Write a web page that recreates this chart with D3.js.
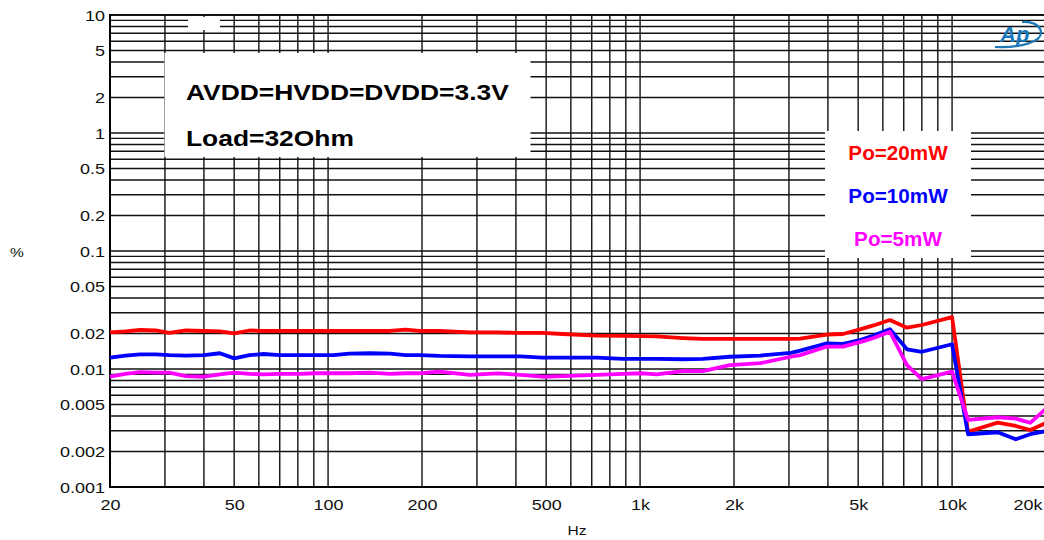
<!DOCTYPE html>
<html><head><meta charset="utf-8">
<script src="https://cdn.jsdelivr.net/npm/d3@7"></script>
<style>body{margin:0;background:#fff}svg{display:block}text{font-family:"Liberation Sans",Arial,sans-serif}</style>
</head><body><svg id="c" width="1044" height="540"></svg>
<script>
const freqs = [20,22.4,25,28,31,35,40,45,50,56,62,70,81,91,104,117,136,158,177,196,227,285,350,413,486,564,727,880,1020,1130,1370,1590,1940,2430,3040,3260,3970,4470,5100,5600,6320,7170,8000,10000,11250,14000,16000,17800,20000];
const po20 = [0.0204,0.0208,0.0214,0.0212,0.0202,0.0212,0.0210,0.0208,0.0200,0.0212,0.0210,0.0210,0.0210,0.0210,0.0210,0.0210,0.0210,0.0210,0.0216,0.0210,0.0210,0.0204,0.0204,0.0202,0.0202,0.0198,0.0192,0.0191,0.0190,0.0189,0.0183,0.0180,0.0180,0.0180,0.0180,0.0181,0.0196,0.0198,0.0218,0.0234,0.0260,0.0224,0.0236,0.0275,0.00294,0.00351,0.00329,0.00304,0.00349];
const po10 = [0.0125,0.0130,0.0133,0.0133,0.0131,0.0130,0.0131,0.0136,0.0123,0.0131,0.0134,0.0131,0.0131,0.0131,0.0131,0.0135,0.0136,0.0135,0.0131,0.0131,0.0129,0.0128,0.0128,0.0128,0.0125,0.0125,0.0125,0.0122,0.0122,0.0122,0.0121,0.0122,0.0127,0.0130,0.0137,0.0143,0.0165,0.0163,0.0177,0.0192,0.0217,0.0147,0.0140,0.0162,0.00280,0.00291,0.00254,0.00280,0.00298];
const po5 = [0.0086,0.0091,0.0094,0.0093,0.0093,0.0087,0.0086,0.0090,0.0093,0.0091,0.0090,0.0091,0.0091,0.0092,0.0092,0.0092,0.0093,0.0091,0.0092,0.0092,0.0095,0.0089,0.0092,0.0089,0.0086,0.0087,0.0089,0.0091,0.0092,0.0090,0.0096,0.0096,0.0108,0.0112,0.0127,0.0131,0.0155,0.0155,0.0170,0.0183,0.0207,0.0108,0.0082,0.0095,0.0037,0.0039,0.0038,0.0035,0.0046];
const seriesNames = ["Po=20mW","Po=10mW","Po=5mW"];
const seriesColors = ["#ff0000","#0000ff","#ff00ff"];
const xTickValues = [20,50,100,200,500,1000,2000,5000,10000,20000];
const xTickLabels = ["20","50","100","200","500","1k","2k","5k","10k","20k"];
const yTickValues = [10,5,2,1,0.5,0.2,0.1,0.05,0.02,0.01,0.005,0.002,0.001];
const yTickLabels = ["10","5","2","1","0.5","0.2","0.1","0.05","0.02","0.01","0.005","0.002","0.001"];
const infoLines = ["AVDD=HVDD=DVDD=3.3V","Load=32Ohm"];

const svg = d3.select("#c");
const x = d3.scaleLog().domain([20,20000]).range([110,1046]);
const y = d3.scaleLog().domain([0.001,10]).range([487,15]);
const SX = 1.2;

// grid
const g = svg.append("g");
g.selectAll("line.v").data(x.ticks().filter(d=>d>20 && d<=10000)).join("line")
  .attr("x1",d=>x(d)).attr("x2",d=>x(d)).attr("y1",15).attr("y2",487)
  .attr("stroke","#111").attr("stroke-width",1.4);
g.selectAll("line.h").data(y.ticks().filter(d=>d>0.001)).join("line")
  .attr("x1",110).attr("x2",1046).attr("y1",d=>y(d)).attr("y2",d=>y(d))
  .attr("stroke","#111").attr("stroke-width",1.4);
// frame
svg.append("line").attr("x1",110).attr("x2",110).attr("y1",14).attr("y2",488).attr("stroke","#000").attr("stroke-width",2);
svg.append("line").attr("x1",109).attr("x2",1046).attr("y1",487).attr("y2",487).attr("stroke","#000").attr("stroke-width",2);
svg.append("line").attr("x1",109).attr("x2",1046).attr("y1",15).attr("y2",15).attr("stroke","#000").attr("stroke-width",1.6);

// white boxes
svg.append("rect").attr("x",188).attr("y",17).attr("width",32).attr("height",13).attr("fill","#fff");
svg.append("rect").attr("x",164.5).attr("y",53).attr("width",366).attr("height",104).attr("fill","#fff");
svg.append("rect").attr("x",825).attr("y",131).attr("width",146).attr("height",127).attr("fill","#fff");

// curves
const line = d3.line().x((d,i)=>x(freqs[i])).y(d=>y(d));
[po20,po10,po5].forEach((s,k)=>{
  svg.append("path").attr("d",line(s)).attr("fill","none")
    .attr("stroke",seriesColors[k]).attr("stroke-width",3.8)
    .attr("stroke-linejoin","round");
});

// axes
const ya = d3.axisLeft(y).tickValues(yTickValues).tickFormat((d,i)=>yTickLabels[i]).tickSize(0).tickPadding(5);
const yg = svg.append("g").attr("transform","translate(110,0)").call(ya);
yg.select(".domain").remove();
yg.selectAll("text").attr("font-size",15).attr("fill","#111").attr("font-family","Liberation Sans, Arial")
  .attr("x",0).attr("dy","0.36em").attr("transform",`translate(-5,0) scale(${SX},1)`);

const xa = d3.axisBottom(x).tickValues(xTickValues).tickFormat((d,i)=>xTickLabels[i]).tickSize(0).tickPadding(12);
const xg = svg.append("g").attr("transform","translate(0,487)").call(xa);
xg.select(".domain").remove();
xg.selectAll("text").attr("font-size",15).attr("fill","#111").attr("font-family","Liberation Sans, Arial")
  .attr("transform",`scale(${SX},1)`);
xg.selectAll(".tick").filter(d=>d===20000).select("text")
  .attr("text-anchor","end").attr("transform",`translate(-4,0) scale(${SX},1)`);

// axis titles
svg.append("text").attr("transform",`translate(17,257) scale(${SX},1)`).attr("text-anchor","middle").attr("font-size",13).attr("fill","#111").text("%");
svg.append("text").attr("transform",`translate(577,535) scale(${SX},1)`).attr("text-anchor","middle").attr("font-size",13).attr("fill","#111").text("Hz");

// info text
infoLines.forEach((t,i)=>{
  svg.append("text").attr("transform",`translate(186,${100+i*46}) scale(1.2,1)`)
    .attr("font-size",22).attr("font-weight","bold").attr("fill","#000").text(t);
});
// legend
seriesNames.forEach((t,i)=>{
  svg.append("text").attr("transform",`translate(898,${160+i*43}) scale(1.06,1)`)
    .attr("text-anchor","middle").attr("font-size",19.5).attr("font-weight","bold")
    .attr("fill",seriesColors[i]).text(t);
});

// logo
svg.append("path").attr("d","M995,47 C1020,48 1042,42 1041,32 C1040,24 1030,21 1022,22")
  .attr("fill","none").attr("stroke","#1b78b8").attr("stroke-width",2.2);
svg.append("text").attr("x",1000).attr("y",42).attr("font-size",22).attr("font-style","italic").attr("font-weight","bold")
  .attr("fill","#1b78b8").text("Ap");
</script></body></html>
